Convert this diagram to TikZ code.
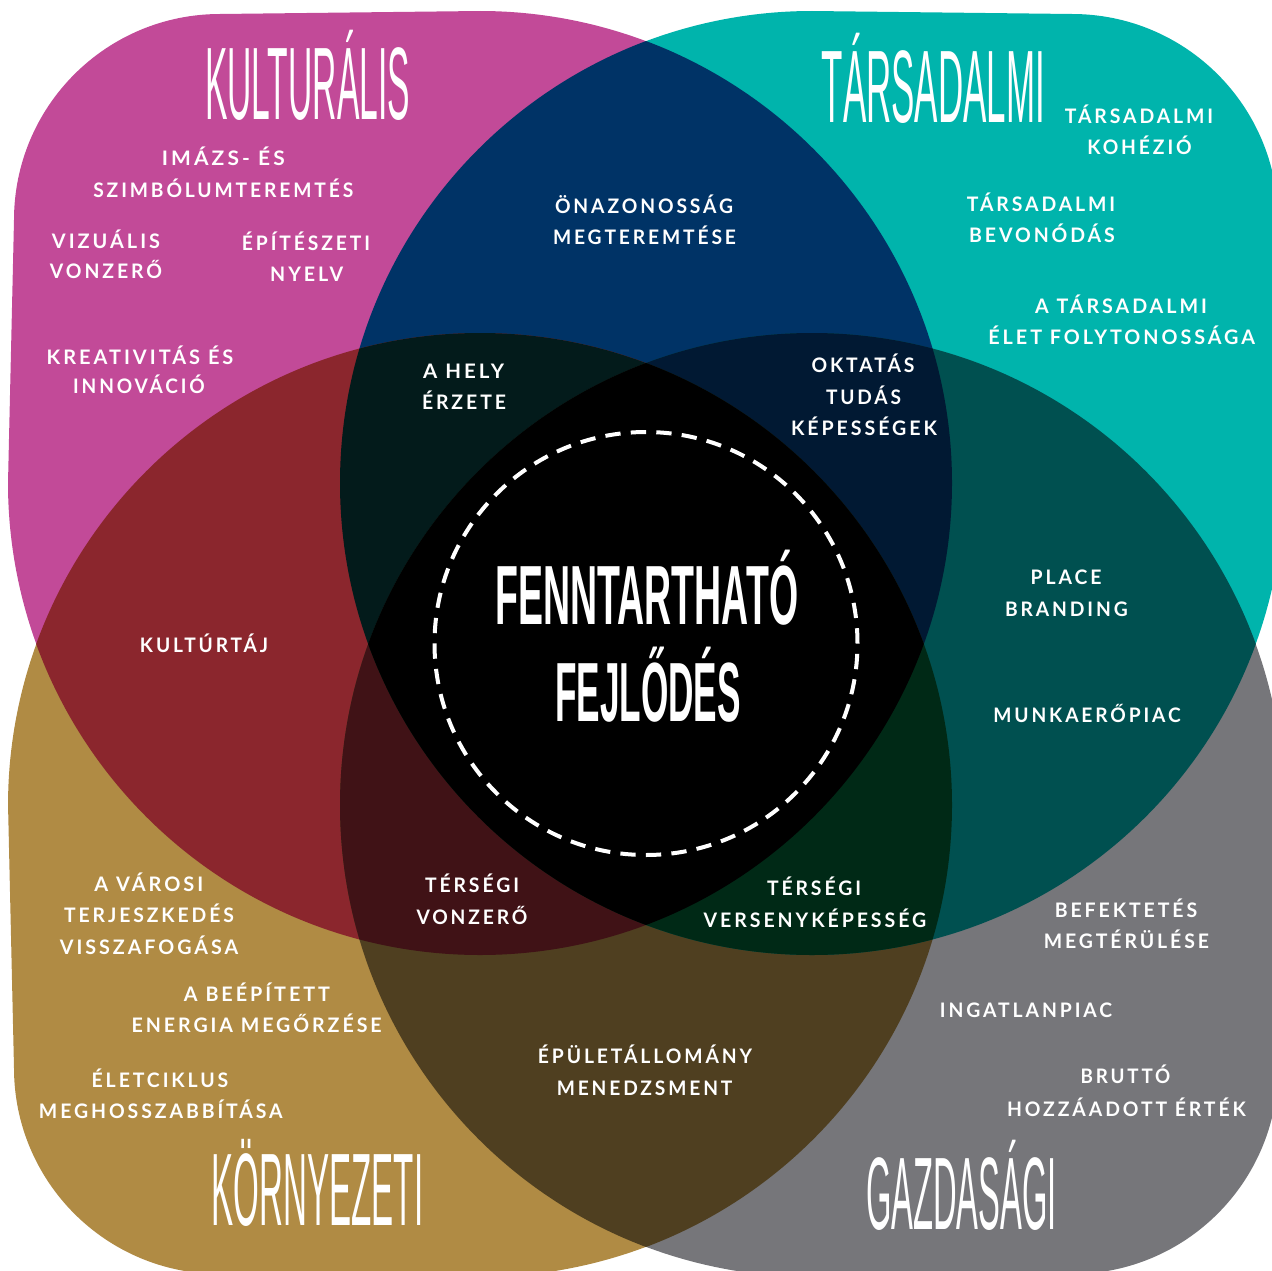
\documentclass[tikz,border=0pt]{standalone}
\usepackage{fontspec}
\usepackage{graphicx}
\newfontfamily\lblfont{Lato}[LetterSpace=15]
\newfontfamily\ttlfont{Liberation Sans}
\definecolor{cmag}{HTML}{C24A98}
\definecolor{cteal}{HTML}{00B4AC}
\definecolor{cgold}{HTML}{B08B44}
\definecolor{cgray}{HTML}{76767A}
\definecolor{cnavy}{HTML}{003366}
\definecolor{cred}{HTML}{8B262D}
\definecolor{cdteal}{HTML}{005050}
\definecolor{cbrown}{HTML}{4F3F20}
\definecolor{cTL}{HTML}{031B1B}
\definecolor{cTR}{HTML}{011933}
\definecolor{cLB}{HTML}{401216}
\definecolor{cRB}{HTML}{002916}
\tikzset{
  lbltxt/.style={anchor=base, inner sep=0pt, text=white, font=\lblfont\bfseries\fontsize{20}{24}\selectfont},
  ttltxt/.style={anchor=base, inner sep=0pt, text=white, font=\ttlfont\fontsize{103}{103}\selectfont},
  ctrtxt/.style={anchor=base, inner sep=0pt, text=white, font=\ttlfont\bfseries\fontsize{84}{84}\selectfont},
  ring/.style={circle, draw=white, line width=4pt, dash pattern=on 15.3pt off 10.256pt, minimum size=423pt, inner sep=0pt}
}
\newcommand\lbl[5]{\node[lbltxt] (#1) at (#2,#3) {\resizebox{#4pt}{\height}{#5}};}
\newcommand\ttl[5]{\node[ttltxt] (#1) at (#2,#3) {\resizebox{#4pt}{\height}{#5}};}
\newcommand\ctr[5]{\node[ctrtxt] (#1) at (#2,#3) {\resizebox{#4pt}{\height}{#5}};}
\begin{document}
\begin{tikzpicture}[x=1pt,y=-1pt]
\useasboundingbox (0,0) rectangle (1272,1271);
\clip (0,0) rectangle (1272,1271);
% four quadrant shapes (big circle + rounded corner, convex hull)
\fill[cmag] (646,644) -- (646.1,41.2) arc[start angle=-69.4, end angle=-90, radius=472]
  -- (220,14) arc[start angle=-90, end angle=-180, radius=206]
  -- (8,483) arc[start angle=180, end angle=160, radius=472] -- cycle;
\fill[cteal] (646,644) -- (645.9,41.2) arc[start angle=-110.6, end angle=-90, radius=472]
  -- (1072,14) arc[start angle=-90, end angle=0, radius=206]
  -- (1284,483) arc[start angle=0, end angle=20, radius=472] -- cycle;
\fill[cgold] (646,644) -- (36.5,643.6) arc[start angle=200, end angle=180, radius=472]
  -- (14,1068) arc[start angle=180, end angle=90, radius=206]
  -- (480,1277) arc[start angle=90, end angle=69.4, radius=472] -- cycle;
\fill[cgray] (646,644) -- (1255.5,643.6) arc[start angle=-20, end angle=0, radius=472]
  -- (1278,1068) arc[start angle=0, end angle=90, radius=206]
  -- (812,1277) arc[start angle=90, end angle=110.6, radius=472] -- cycle;
% lenses: intersections of the four circles NW, NE, SW, SE
\begin{scope}
  \clip (480,483) circle [radius=472];
  \fill[cnavy] (812,483) circle [radius=472];
  \fill[cred] (480,805) circle [radius=472];
\end{scope}
\begin{scope}
  \clip (812,805) circle [radius=472];
  \fill[cbrown] (480,805) circle [radius=472];
  \fill[cdteal] (812,483) circle [radius=472];
\end{scope}
% triple overlaps
\begin{scope}
  \clip (480,483) circle [radius=472];
  \clip (812,483) circle [radius=472];
  \fill[cTL] (480,805) circle [radius=472];
  \fill[cTR] (812,805) circle [radius=472];
\end{scope}
\begin{scope}
  \clip (480,805) circle [radius=472];
  \clip (812,805) circle [radius=472];
  \fill[cLB] (480,483) circle [radius=472];
  \fill[cRB] (812,483) circle [radius=472];
\end{scope}
% centre: all four
\begin{scope}
  \clip (480,483) circle [radius=472];
  \clip (812,483) circle [radius=472];
  \clip (480,805) circle [radius=472];
  \fill[black] (812,805) circle [radius=472];
\end{scope}
% centre ring
\node[ring] (ring) at (646,643.5) {};
\ctr{c1}{647}{624.6}{302.6}{FENNTARTHATÓ}
\ctr{c2}{648}{721.5}{185.8}{FEJLŐDÉS}
% titles
\ttl{tk}{307.5}{120}{205}{KULTURÁLIS}
\ttl{tt}{933.3}{122.7}{223.3}{TÁRSADALMI}
\ttl{tn}{317.5}{1225}{211.7}{KÖRNYEZETI}
\ttl{tg}{961.5}{1229.7}{191}{GAZDASÁGI}
% magenta labels
\lbl{k1}{223.3}{166}{123}{IMÁZS- ÉS}
\lbl{k2}{223.3}{197}{260}{SZIMBÓLUMTEREMTÉS}
\lbl{k3}{106}{248}{108}{VIZUÁLIS}
\lbl{k4}{106}{278}{112}{VONZERŐ}
\lbl{k5}{306}{250}{128}{ÉPÍTÉSZETI}
\lbl{k6}{306.7}{281}{73}{NYELV}
\lbl{k7}{140}{364}{186.7}{KREATIVITÁS ÉS}
\lbl{k8}{139}{393}{131.7}{INNOVÁCIÓ}
% teal labels
\lbl{t1}{1139}{123.3}{148.3}{TÁRSADALMI}
\lbl{t2}{1139.5}{155}{104.3}{KOHÉZIÓ}
\lbl{t3}{1041}{211.7}{148.3}{TÁRSADALMI}
\lbl{t4}{1042}{242}{145.7}{BEVONÓDÁS}
\lbl{t5}{1121}{313}{171.7}{A TÁRSADALMI}
\lbl{t6}{1121.7}{344}{266.7}{ÉLET FOLYTONOSSÁGA}
% navy labels
\lbl{n1}{644}{213.5}{178}{ÖNAZONOSSÁG}
\lbl{n2}{644.5}{244}{183}{MEGTEREMTÉSE}
% overlaps top
\lbl{h1}{463.5}{378.2}{81}{A HELY}
\lbl{h2}{464}{409}{84}{ÉRZETE}
\lbl{o1}{863}{372.3}{103}{OKTATÁS}
\lbl{o2}{863.5}{404}{75}{TUDÁS}
\lbl{o3}{864}{435}{146}{KÉPESSÉGEK}
% left / right
\lbl{r1}{204}{652}{128}{KULTÚRTÁJ}
\lbl{p1}{1066}{584.6}{70.8}{PLACE}
\lbl{p2}{1066.4}{616}{122.7}{BRANDING}
\lbl{m1}{1087}{722}{187.4}{MUNKAERŐPIAC}
% overlaps bottom
\lbl{v1}{472}{892.3}{94}{TÉRSÉGI}
\lbl{v2}{472}{924}{111}{VONZERŐ}
\lbl{s1}{814}{895.4}{94}{TÉRSÉGI}
\lbl{s2}{815}{927}{222.6}{VERSENYKÉPESSÉG}
% gold labels
\lbl{g1}{148.8}{891.7}{109}{A VÁROSI}
\lbl{g2}{149}{922.7}{169.7}{TERJESZKEDÉS}
\lbl{g3}{149}{954}{178.3}{VISSZAFOGÁSA}
\lbl{g4}{257}{1001.7}{146}{A BEÉPÍTETT}
\lbl{g5}{256.7}{1032.7}{250}{ENERGIA MEGŐRZÉSE}
\lbl{g6}{160}{1087}{136.7}{ÉLETCIKLUS}
\lbl{g7}{160.8}{1118.3}{243.7}{MEGHOSSZABBÍTÁSA}
% brown labels
\lbl{e1}{645}{1063}{214.2}{ÉPÜLETÁLLOMÁNY}
\lbl{e2}{644.6}{1095}{175.6}{MENEDZSMENT}
% gray labels
\lbl{b1}{1126}{917.2}{142.5}{BEFEKTETÉS}
\lbl{b2}{1126.4}{948.5}{165.2}{MEGTÉRÜLÉSE}
\lbl{i1}{1026}{1017.7}{172.3}{INGATLANPIAC}
\lbl{b3}{1125.5}{1083.8}{89.7}{BRUTTÓ}
\lbl{b4}{1126.4}{1116}{238.8}{HOZZÁADOTT ÉRTÉK}
\end{tikzpicture}
\end{document}
